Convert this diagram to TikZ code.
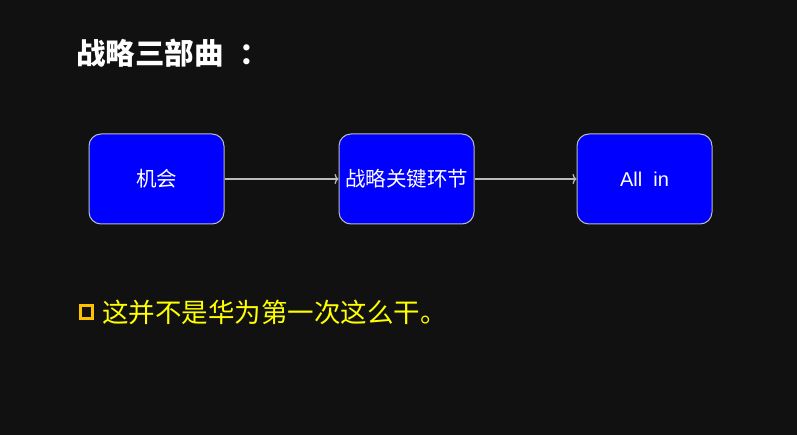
\documentclass[tikz,border=0pt]{standalone}
\usepackage{fontspec}
\setmainfont{Liberation Sans}
\newfontfamily\cjk{Noto Sans CJK SC}
\usetikzlibrary{arrows.meta}
\definecolor{bg}{HTML}{111111}
\definecolor{boxblue}{HTML}{0000FF}
\definecolor{edgegray}{HTML}{BBBBBB}
\definecolor{txtyellow}{HTML}{FFFF00}
\definecolor{bulletorange}{HTML}{FFC000}
\begin{document}
\begin{tikzpicture}[x=1pt,y=-1pt,
  stepbox/.style={draw=edgegray, line width=1pt, fill=boxblue, rounded corners=12pt,
    minimum width=135pt, minimum height=90pt, inner sep=0pt, text=white, font=\fontsize{20.5}{22}\selectfont\cjk},
  flow/.style={draw=edgegray, line width=1.3pt, -{To[length=4pt,width=10pt]}}]
\fill[bg] (0,0) rectangle (797,435);
\useasboundingbox (0,0) rectangle (797,435);
\node[anchor=west, text=white, font=\fontsize{29.5}{32}\selectfont\bfseries\cjk, inner sep=0pt] (title) at (76,53) {战略三部曲\hspace{16pt}：};
\node[stepbox] (a) at (156.5,179) {机会};
\node[stepbox] (b) at (406.5,179) {战略关键环节};
\node[stepbox, font=\fontsize{20}{22}\selectfont] (c) at (644.5,179) {All\ \ in};
\draw[flow] (a) -- (b);
\draw[flow] (b) -- (c);
\node[draw=bulletorange, line width=3pt, minimum width=12pt, minimum height=12pt, inner sep=0pt] (bul) at (86,312) {};
\node[anchor=west, text=txtyellow, font=\fontsize{26.5}{28}\selectfont\cjk, inner sep=0pt] (txt) at (102,312) {这并不是华为第一次这么干。};
\end{tikzpicture}
\end{document}
